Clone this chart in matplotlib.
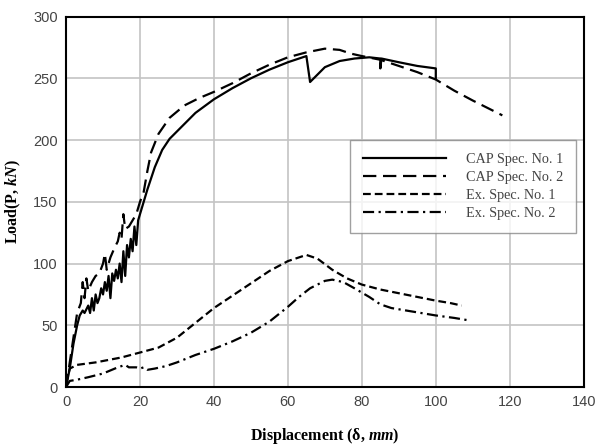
import numpy as np
import matplotlib.pyplot as plt

plt.rcParams['mathtext.fontset'] = 'custom'
plt.rcParams['mathtext.rm'] = 'Liberation Serif:bold'
plt.rcParams['mathtext.it'] = 'Liberation Serif:italic:bold'
plt.rcParams['mathtext.bf'] = 'Liberation Serif:bold'

# CAP Spec. No. 1 (solid)
cap1_x = [0, 1, 2, 3, 3.7, 4.5, 5, 6, 6.5, 7, 7.5, 8, 8.5, 9, 9.5, 10, 10.5, 11, 11.5, 12,
          12.5, 13, 13.5, 14, 14.5, 15, 15.5, 16, 16.5, 17, 17.5, 18, 18.5, 19, 19.5, 20,
          21, 22, 24, 26, 28, 30, 35, 40, 45, 50, 55, 60, 65, 66, 68, 70, 74, 78, 82, 85, 85,
          85.3, 90, 95, 100, 100]
cap1_y = [0, 15, 35, 50, 58, 62, 60, 66, 60, 72, 62, 75, 68, 72, 80, 75, 85, 78, 90, 72,
          92, 86, 95, 88, 100, 85, 110, 90, 115, 105, 120, 110, 130, 115, 135, 140,
          150, 160, 178, 192, 201, 207, 222, 233, 242, 250, 257, 263, 268, 247, 253, 259,
          264, 266, 267, 266, 258, 266, 263, 260, 258, 250]

# CAP Spec. No. 2 (long dash)
cap2_x = [0, 1, 2, 3, 4, 4.5, 5, 5.5, 6, 7, 8, 9, 10, 10.5, 11, 12, 13, 14, 14.5, 15, 15.5,
          16, 17, 18, 19, 20, 21, 22, 23, 25, 28, 32, 36, 40, 45, 50, 55, 60, 65, 70, 74,
          77, 80, 85, 90, 95, 100, 105, 110, 114, 118]
cap2_y = [0, 20, 40, 60, 68, 85, 72, 88, 78, 85, 90, 92, 100, 108, 95, 105, 112, 118, 125,
          120, 140, 128, 130, 135, 140, 150, 158, 175, 190, 205, 218, 228, 234, 239, 246,
          254, 261, 267, 271, 274, 273, 270, 268, 265, 260, 255, 249, 240, 232, 226, 220]

# Ex. Spec. No. 1 (short dash)
ex1_x = [0, 1, 3, 8, 15, 20, 25, 30, 35, 40, 45, 50, 55, 60, 65, 68, 72, 76, 80, 85, 90,
         95, 100, 104, 107]
ex1_y = [3, 15, 18, 20, 24, 28, 32, 40, 52, 64, 74, 84, 94, 102, 107, 104, 95, 88, 83, 79,
         76, 73, 70, 68, 66]

# Ex. Spec. No. 2 (dash-dot)
ex2_x = [0, 1, 3, 6, 10, 14, 16, 17, 19, 20, 21, 22, 24, 27, 30, 35, 40, 45, 50, 55, 60,
         63, 66, 70, 72, 75, 78, 82, 85, 88, 92, 96, 100, 105, 109]
ex2_y = [0, 5, 6, 8, 11, 16, 18, 16, 16, 15, 16, 14, 15, 17, 20, 26, 31, 37, 44, 53, 65,
         73, 80, 86, 87, 85, 80, 73, 67, 64, 62, 60, 58, 56, 54]

labels = ['CAP Spec. No. 1', 'CAP Spec. No. 2', 'Ex. Spec. No. 1', 'Ex. Spec. No. 2']

fig = plt.figure(figsize=(5.95, 4.47), dpi=100)
ax = fig.add_axes([0.111, 0.134, 0.870, 0.829])

lw = 1.6
ax.plot(cap1_x, cap1_y, color='black', lw=lw, ls='-', label=labels[0])
ax.plot(cap2_x, cap2_y, color='black', lw=lw, ls=(0, (6, 3)), label=labels[1])
ax.plot(ex1_x, ex1_y, color='black', lw=lw, ls=(0, (3.5, 1.8)), label=labels[2])
ax.plot(ex2_x, ex2_y, color='black', lw=lw, ls=(0, (5, 2, 1, 2)), label=labels[3])

ax.set_xlim(0, 140)
ax.set_ylim(0, 300)
ax.set_xticks(np.arange(0, 141, 20))
ax.set_yticks(np.arange(0, 301, 50))
ax.grid(True, color='#c4c4c4', lw=1.2)
ax.set_axisbelow(True)
ax.tick_params(length=0, pad=6, labelsize=10.5, labelcolor='#444444')
for lab in ax.get_xticklabels() + ax.get_yticklabels():
    lab.set_family('Liberation Sans')
for s in ax.spines.values():
    s.set_linewidth(1.5)

ax.set_xlabel(r'Displacement (δ, $\mathit{mm}$)', family='Liberation Serif',
              fontweight='bold', fontsize=11.5, labelpad=12)
ax.set_ylabel(r'Load(P, $\mathit{kN}$)', family='Liberation Serif',
              fontweight='bold', fontsize=11.5, labelpad=7)

leg = ax.legend(loc='upper left', bbox_to_anchor=(76.8 / 140, 200 / 300), frameon=True,
                fancybox=False, edgecolor='#888888', handlelength=5.8, handletextpad=1.4,
                prop={'family': 'Liberation Serif', 'size': 10.3}, labelspacing=0.35,
                borderpad=0.9, borderaxespad=0)
leg.get_frame().set_linewidth(1.0)
for t in leg.get_texts():
    t.set_color('#444444')

fig.savefig('out.png', dpi=100)
